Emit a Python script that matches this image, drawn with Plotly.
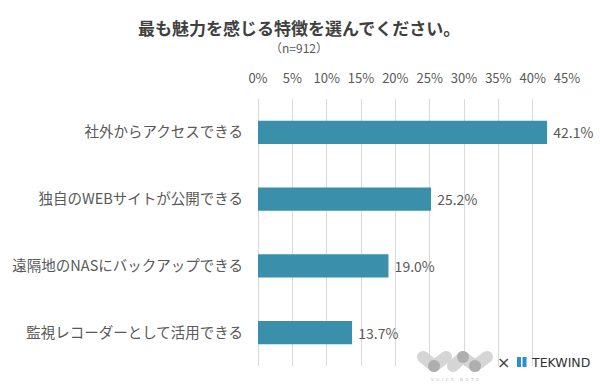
import math
import plotly.graph_objects as go

categories = ["社外からアクセスできる", "独自のWEBサイトが公開できる", "遠隔地のNASにバックアップできる", "監視レコーダーとして活用できる"]
values = [42.1, 25.2, 19.0, 13.7]
tick_vals = [0, 5, 10, 15, 20, 25, 30, 35, 40, 45]
tick_text = [f"{v}%" for v in tick_vals]
title_text = "最も魅力を感じる特徴を選んでください。"
subtitle_text = "（n=912）"

FONT = "Noto Sans CJK JP"
TXT = "#595959"

fig = go.Figure(go.Bar(
    x=values, y=categories, orientation="h",
    marker=dict(color="#3A90AB", line=dict(width=0)),
    text=[f" {v:.1f}%" for v in values], textposition="outside",
    textfont=dict(family=FONT, size=14, color=TXT),
    cliponaxis=False,
))

L, R, T, B = 258, 33, 99, 22
fig.update_layout(
    width=600, height=388,
    margin=dict(l=L, r=R, t=T, b=B),
    paper_bgcolor="white", plot_bgcolor="white",
    bargap=0.655,
    showlegend=False,
    font=dict(family=FONT, color=TXT),
    xaxis=dict(
        side="top", range=[0, 45], tickvals=tick_vals, ticktext=tick_text,
        showgrid=True, gridcolor="#D9D9D9", gridwidth=1,
        zeroline=True, zerolinecolor="#D9D9D9", zerolinewidth=1,
        showline=False, ticks="", ticklabelstandoff=12,
        tickfont=dict(family=FONT, size=13, color=TXT),
        fixedrange=True,
    ),
    yaxis=dict(
        autorange="reversed", showgrid=False, showline=False, ticks="",
        ticklabelstandoff=14,
        tickfont=dict(family=FONT, size=14.5, color=TXT),
        fixedrange=True,
    ),
)

plot_w = 600 - L - R
plot_h = 388 - T - B
def px_to_paper(px, py):
    return (px - L) / plot_w, (388 - B - py) / plot_h

tx, ty = px_to_paper(299, 27)
fig.add_annotation(text=f"<b>{title_text}</b>", x=tx, y=ty, xref="paper", yref="paper",
                   xanchor="center", yanchor="middle", showarrow=False,
                   font=dict(family=FONT, size=17, color="#404040"))
sx, sy = px_to_paper(299, 48)
fig.add_annotation(text=subtitle_text, x=sx, y=sy, xref="paper", yref="paper",
                   xanchor="center", yanchor="middle", showarrow=False,
                   font=dict(family=FONT, size=12, color=TXT))

# ---- logo decoration (VOICE NOTE x TEKWIND) ----
def pill_path(p, q, r):
    (x1, y1), (x2, y2) = p, q
    ang = math.atan2(y2 - y1, x2 - x1)
    pts = []
    for i in range(13):
        a = ang + math.pi / 2 + math.pi * i / 12
        pts.append((x1 + r * math.cos(a), y1 + r * math.sin(a)))
    for i in range(13):
        a = ang - math.pi / 2 + math.pi * i / 12
        pts.append((x2 + r * math.cos(a), y2 + r * math.sin(a)))
    segs = []
    for k, (px, py) in enumerate(pts):
        X, Y = px_to_paper(px, py)
        segs.append(("M" if k == 0 else "L") + f"{X:.5f},{Y:.5f}")
    return " ".join(segs) + " Z"

pills = [((423, 357), (434, 366)), ((434, 366), (446, 357)),
         ((453, 366), (463, 357)), ((463, 357), (475, 366)), ((475, 366), (487, 357))]
for p, q in pills:
    fig.add_shape(type="path", xref="paper", yref="paper", path=pill_path(p, q, 6),
                  fillcolor="#D5D5D5", line=dict(width=0))
for cx, cy in [(434, 366), (463, 357), (475, 366)]:
    x0, y0 = px_to_paper(cx - 6, cy + 6)
    x1, y1 = px_to_paper(cx + 6, cy - 6)
    fig.add_shape(type="circle", xref="paper", yref="paper", x0=x0, y0=y0, x1=x1, y1=y1,
                  fillcolor="#AEAEAE", line=dict(width=0))
vx, vy = px_to_paper(455, 379)
fig.add_annotation(text="V  O  I  C  E     N  O  T  E", x=vx, y=vy, xref="paper", yref="paper",
                   showarrow=False, font=dict(family="DejaVu Sans", size=4, color="#BBBBBB"),
                   xanchor="center", yanchor="middle")
xx, xy = px_to_paper(503, 362)
fig.add_annotation(text="×", x=xx, y=xy, xref="paper", yref="paper", showarrow=False,
                   font=dict(family="DejaVu Sans", size=16, color="#444444"), xanchor="center", yanchor="middle")
for bx0 in (517, 522.5):
    x0, y0 = px_to_paper(bx0, 367)
    x1, y1 = px_to_paper(bx0 + 4, 357)
    fig.add_shape(type="rect", xref="paper", yref="paper", x0=x0, y0=y0, x1=x1, y1=y1,
                  fillcolor="#2A8FD2", line=dict(width=0))
tkx, tky = px_to_paper(529, 362)
fig.add_annotation(text="TEKWIND", x=tkx, y=tky, xref="paper", yref="paper",
                   showarrow=False, font=dict(family="DejaVu Sans", size=12.5, color="#333333"),
                   xanchor="left", yanchor="middle")

fig.write_html("out.html", post_script="document.body.style.margin='0';",
               config={"displayModeBar": False})
